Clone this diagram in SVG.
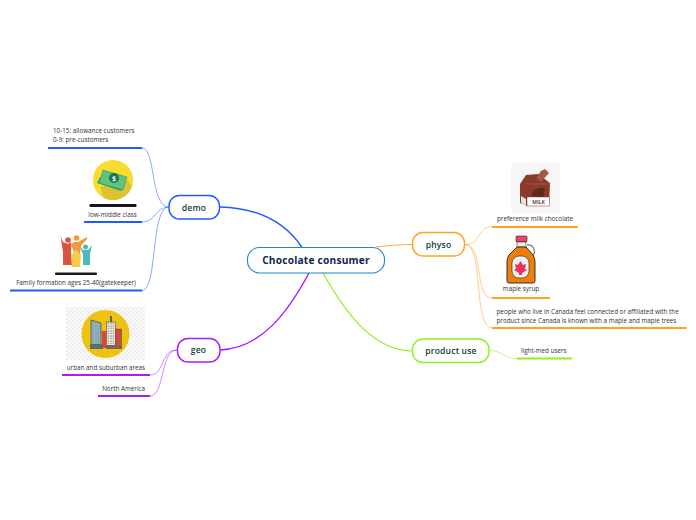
<svg xmlns="http://www.w3.org/2000/svg" width="696" height="520" viewBox="0 0 696 520">
<defs>
<pattern id="chk" width="4" height="4" patternUnits="userSpaceOnUse"><rect width="4" height="4" fill="#fafafa"/><rect width="2" height="2" fill="#eeeeee"/><rect x="2" y="2" width="2" height="2" fill="#eeeeee"/></pattern>
<pattern id="win" width="2.500" height="2.500" patternUnits="userSpaceOnUse"><rect x=".5" y=".5" width="1" height="1" fill="#555"/></pattern>
</defs>
<style>
text{font-family:"Open Sans","Noto Sans","Liberation Sans",sans-serif}
.n{fill:#fff;stroke-width:1.4}
.t{font-size:8.600px;font-weight:600;fill:#0f3d3e;text-anchor:middle;letter-spacing:.15px}
.l{font-size:6.300px;fill:#333}
.m{text-anchor:middle}
.e{text-anchor:end}
.c{fill:none}
.th{stroke-width:1.800}
.s{stroke-width:.8;stroke-opacity:.65}
.b{stroke:#1f5cff}.p{stroke:#a61bff}.o{stroke:#ffa31f}.g{stroke:#8ff01f}
</style>
<rect width="696" height="520" fill="#fff"/>
<g id="connectors" class="c">
<path class="b" stroke-width="1.400" d="M220 207C262 208 287 225 302 247.500"/>
<path class="p" stroke-width="1.400" d="M220 350C262 348 288 312 309 273"/>
<path class="o" stroke-width="1.200" d="M376 247C390 245 400 244.500 412.500 244.500"/>
<path class="g" stroke-width="1.200" d="M323 273C347 316 375 351 412.500 351"/>
<path class="b s" d="M169 207C150 207 156 148 142 148"/>
<path class="b s" d="M169 207C155 207 156 222 142 222"/>
<path class="b s" d="M169 207C150 207 158 290.500 142 290.500"/>
<path class="p s" d="M177 350C160 350 165 375 150 375"/>
<path class="p s" d="M177 350C160 350 165 396 150 396"/>
<path class="o s" d="M465 244.500C482 244.500 476 227 492 227"/>
<path class="o s" d="M465 244.500C484 244.500 474 298 492 298"/>
<path class="o s" d="M465 244.500C484 244.500 473 328 492 328"/>
<path class="g s" d="M489 350.500C503 350.500 503 358.500 517 358.500"/>
<path class="b th" d="M48 148H142M84 222H142M10 290.500H142"/>
<path class="p th" d="M62 375H150M98 396H150"/>
<path class="o th" d="M492 227H578M492 298H550M492 328H686.500"/>
<path class="g th" d="M517 358.500H572"/>
</g>
<g id="root"><rect x="247.500" y="247.500" width="137" height="25.500" rx="12" fill="#fff" stroke="#1f86c9" stroke-width="1.100"/><text x="316" y="264" text-anchor="middle" font-size="10.200" font-weight="700" fill="#10264d" letter-spacing=".2">Chocolate consumer</text></g>
<g id="demo"><rect class="n b" x="169" y="195.500" width="50.500" height="23.500" rx="10.500"/><text class="t" x="194" y="210.500">demo</text></g>
<g id="geo"><rect class="n p" x="177.500" y="338.500" width="42.500" height="23.500" rx="10.500"/><text class="t" x="198.500" y="353">geo</text></g>
<g id="physo"><rect class="n o" x="412.500" y="232.500" width="52" height="23.500" rx="10.500"/><text class="t" x="438.500" y="247.500">physo</text></g>
<g id="product-use"><rect class="n g" x="412.500" y="339" width="76.500" height="23.500" rx="10.500"/><text class="t" x="451" y="354">product use</text></g>
<g id="ages"><text class="l" x="53" y="133">10-15: allowance customers</text><text class="l" x="53" y="142">0-9: pre-customers</text></g>
<g id="low-middle">
<circle cx="113" cy="180" r="20" fill="#f8dd2e"/>
<path d="M132 186A20 20 0 0 1 104 198L100 187L127 180Z" fill="#dcc334"/>
<path d="M100 177L124 185L121 191L97 183Z" fill="#3e9e68"/>
<path d="M103 170L127 177L123 190L99 183Z" fill="#5cc47f" stroke="#2e8a5a" stroke-width=".5"/>
<circle cx="114" cy="178" r="5" fill="#1f7350"/>
<text x="114" y="180.500" text-anchor="middle" font-size="7" font-weight="700" fill="#eafff0">$</text>
<rect x="89.500" y="204" width="47" height="3" rx="1" fill="#16161f"/>
<text class="l m" x="112.500" y="216.500">low-middle class</text></g>
<g id="family">
<rect x="55" y="272.500" width="42" height="2.500" rx="1" fill="#16161f"/>
<path d="M60.500 236L63 242L68 244L71 242L71 252L72 265L63 265L63 252Z" fill="#d9543f"/>
<path d="M70 245L74 242H78L87 237L87 239L81 246L80 254H74L73 249Z" fill="#f59a3c"/>
<circle cx="76.500" cy="238" r="2.800" fill="#f59a3c"/>
<circle cx="68" cy="240" r="2.800" fill="#d9543f"/>
<path d="M71 255L76 252L81 255L80 267H72Z" fill="#f3ce4c"/>
<circle cx="76" cy="253" r="2.500" fill="#f3ce4c"/>
<path d="M79 245L83 250L88 250L92 245L90 254V265H83L83 254Z" fill="#4dbab5"/>
<circle cx="85.500" cy="247" r="2.500" fill="#4dbab5"/>
<text class="l m" x="76" y="284.500">Family formation ages 25-40(gatekeeper)</text></g>
<g id="urban">
<rect x="66" y="307" width="79" height="53" fill="url(#chk)"/>
<circle cx="105.500" cy="334" r="24" fill="#eec213"/>
<path d="M91 320L101 323V348H91Z" fill="#8db4c6" stroke="#333" stroke-width=".6"/>
<path d="M91 320L101 323V348H91Z" fill="url(#win)" opacity=".5"/>
<rect x="102" y="331" width="5" height="17" fill="#d9483b"/>
<rect x="106.500" y="322" width="9" height="26" fill="#ece5da" stroke="#444" stroke-width=".5"/>
<rect x="106.500" y="322" width="9" height="26" fill="url(#win)"/>
<path d="M111 316V322" stroke="#444" stroke-width="1.500"/>
<rect x="115.500" y="329" width="6" height="19" fill="#d9483b" stroke="#444" stroke-width=".4"/>
<rect x="115.500" y="329" width="6" height="19" fill="url(#win)" opacity=".7"/>
<rect x="90" y="344" width="13" height="5" fill="#596b73"/>
<rect x="106" y="345" width="16" height="4" fill="#7d6451"/>
<text class="l e" x="145" y="370">urban and suburban areas</text></g>
<g id="north-america"><text class="l e" x="145" y="391">North America</text></g>
<g id="milk">
<rect x="511" y="163" width="49" height="50" rx="3" fill="#f6f6f6"/>
<path d="M526 175L538 174L550 183L549 206H527L520 203L520 184Z" fill="#8a3a2a"/>
<path d="M521 196L526 199V206L521 203Z" fill="#dfe6e2"/>
<path d="M526 184H550" stroke="#b96a58" stroke-width=".6"/>
<rect x="527" y="197" width="22.500" height="9" fill="#fff" stroke="#8a3a2a" stroke-width=".5"/>
<text x="538.500" y="204.300" text-anchor="middle" font-size="5" font-weight="700" fill="#6b4a4a">MILK</text>
<path d="M531 196C533 189 541 186 545 189L543 197Z" fill="#5e2a1e"/>
<path d="M536 178L541 171L545 169L549 173L541 182Z" fill="#a3594a"/>
<text class="l m" x="535" y="221">preference milk chocolate</text></g>
<g id="maple">
<rect x="516" y="236" width="11" height="6" rx="1" fill="#ef4565" stroke="#222" stroke-width=".6"/>
<rect x="517" y="242" width="9" height="5" fill="#eee" stroke="#222" stroke-width=".5"/>
<path d="M527 245C535 244 536 254 532 256" fill="none" stroke="#777" stroke-width="1.200"/>
<path d="M517 247H526L533 255Q535 258 535 262V281Q535 283 533 283H509Q507 283 507 281V262Q507 258 509 255Z" fill="#f07f09" stroke="#222" stroke-width=".9"/>
<rect x="512" y="256" width="17" height="22" rx="7" fill="#eef0f3" stroke="#222" stroke-width=".6"/>
<path d="M520.500 261L523 265L526 264L525 269L527 270L522 273V275H519V273L514 270L516 269L515 264L518 265Z" fill="#e8355b"/>
<text class="l m" x="521" y="291">maple syrup</text></g>
<g id="canada"><text class="l" x="496.500" y="314">people who live in Canada feel connected or affiliated with the</text><text class="l" x="496.500" y="323">product since Canada is known with a maple and maple trees</text></g>
<g id="light-med"><text class="l" x="521" y="353">light-med users</text></g>
</svg>
